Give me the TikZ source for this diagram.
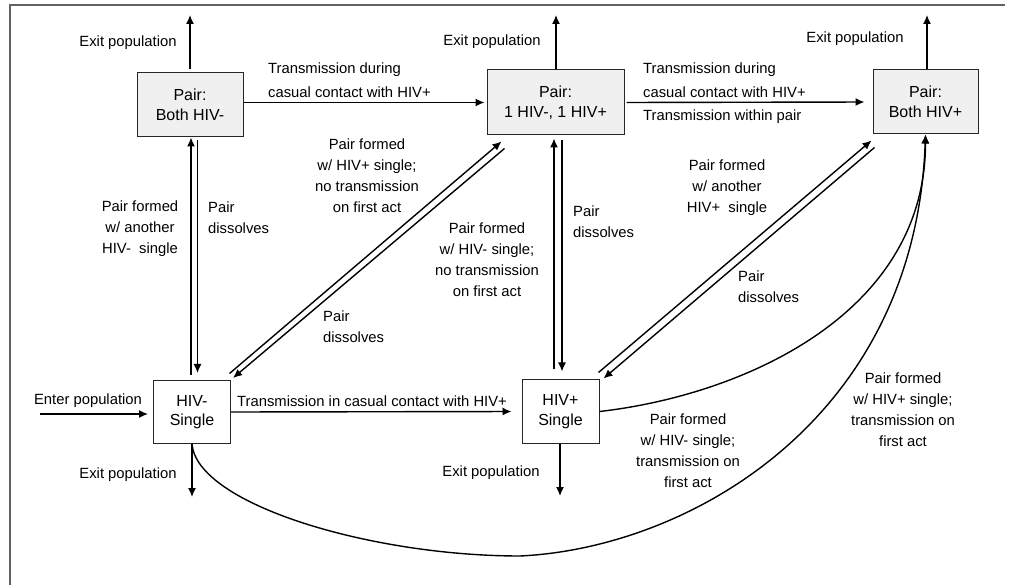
\documentclass[tikz,border=0pt]{standalone}
\usepackage{fontspec}
\setmainfont{Liberation Sans}
\usetikzlibrary{positioning,calc,arrows.meta}

\begin{document}
\begin{tikzpicture}[x=1pt,y=-1pt]
 \tikzset{arrow/.style={line width=1.4pt,-{Latex[length=9pt,width=8pt]}},
  pairbox/.style={draw=black!85,line width=1pt,fill=gray!12,align=center,inner sep=0pt,
   font=\fontsize{16}{19.5}\selectfont},
  singlebox/.style={pairbox,fill=white},
  lbl/.style={align=center,inner sep=0pt,font=\fontsize{14.8}{21}\selectfont},
  frame/.style={line width=1.8pt,black!62}}
 \useasboundingbox (0,0) rectangle (1010,585);
 \coordinate (frBL) at (10,585);
 \coordinate (frTL) at (10,5);
 \coordinate (frTR) at (1005,5);
 \draw[frame] (frBL) -- (frTL) -- (frTR);

 % states
 \node[pairbox,minimum width=106,minimum height=64] (NN) at (190,105) {Pair:\\Both HIV-};
 \node[pairbox,minimum width=137,minimum height=65] (NP) at (555.5,102.5) {Pair:\\1 HIV-, 1 HIV+};
 \node[pairbox,minimum width=105,minimum height=64] (PP) at (925.5,102) {Pair:\\Both HIV+};
 \node[singlebox,minimum width=77,minimum height=63] (N) at (192,412) {HIV-\\Single};
 \node[singlebox,minimum width=77,minimum height=63] (P) at (560.5,411.5) {HIV+\\Single};

 % free ends
 \coordinate (NNout) at (190,15);
 \coordinate (NPout) at (556,15);
 \coordinate (PPout) at (927,15);
 \coordinate (Nout) at (192,497);
 \coordinate (Pout) at (560,496);
 \coordinate (Nin) at (40,414);
 \coordinate (low) at (520,556);

 % entering and leaving
 \draw[arrow] (NNout |- NN.north) ++(0,-3) -- (NNout);
 \draw[arrow] (NPout |- NP.north) -- (NPout);
 \draw[arrow] (PPout |- PP.north) -- (PPout);
 \draw[arrow] (N.south) -- (Nout);
 \draw[arrow] (Pout |- P.south) -- (Pout);
 \draw[arrow,shorten >=5pt] (Nin) -- (Nin -| N.west);
 \node[lbl] (exNN) at (128,43) {Exit population};
 \node[lbl] (exNP) at (492,42) {Exit population};
 \node[lbl] (exPP) at (855,39) {Exit population};
 \node[lbl] (exN) at (128,475) {Exit population};
 \node[lbl] (exP) at (491,473) {Exit population};
 \node[lbl] (enter) at (88,401) {Enter population};

 % casual contact
 \draw[arrow,shorten >=2pt] (NN.east |- NP.west) -- (NP.west);
 \draw[arrow,shorten <=2pt,shorten >=8pt] (NP.east) -- (PP.west);
 \draw[arrow,shorten >=10pt] (N.east) -- (P.west);
 \node[lbl,align=left,anchor=west] (lAB) at (268,80) {Transmission during\\[3pt]casual contact with HIV+};
 \node[lbl,align=left,anchor=west] (lBC) at (643,80) {Transmission during\\[3pt]casual contact with HIV+};
 \node[lbl,anchor=west] (lBCin) at (643,117) {Transmission within pair};
 \node[lbl,anchor=west] (lNP) at (237,401) {Transmission in casual contact with HIV+};

 % pair formation and dissolution
 \draw[arrow] ($(N.north)+(-1,-5)$) -- ($(NN.south)+(1,0)$);
 \draw[arrow] ($(NN.south)+(7.5,3)$) -- ($(N.north)+(5.5,-7)$);
 \draw[arrow] ($(P.north)+(-6.5,-10)$) -- ($(NP.south)+(-1.5,3)$);
 \draw[arrow] ($(NP.south)+(6.5,5)$) -- ($(P.north)+(1.5,-8)$);
 \draw[arrow] ($(N.north east)+(-1.5,-6.5)$) -- ($(NP.south west)+(15,6)$);
 \draw[arrow] ($(NP.south west)+(18,13)$) -- ($(N.north east)+(2,-2)$);
 \draw[arrow] ($(P.north east)+(-1,-7)$) -- ($(PP.south west)+(-1,6)$);
 \draw[arrow] ($(PP.south west)+(2,13)$) -- ($(P.north east)+(4,-1)$);
 \node[lbl] (lNNform) at (140,229) {Pair formed\\w/ another\\HIV-~~single};
 \node[lbl,align=left,anchor=west] (lNNdis) at (208,218) {Pair\\dissolves};
 \node[lbl] (lNPform) at (367,176) {Pair formed\\w/ HIV+ single;\\no transmission\\on first act};
 \node[lbl,align=left,anchor=west] (lNPdis) at (323,327) {Pair\\dissolves};
 \node[lbl] (lPform) at (487,260) {Pair formed\\w/ HIV- single;\\no transmission\\on first act};
 \node[lbl,align=left,anchor=west] (lPdis) at (573,222) {Pair\\dissolves};
 \node[lbl] (lPPform) at (727,188) {Pair formed\\w/ another\\HIV+~~single};
 \node[lbl,align=left,anchor=west] (lPPdis) at (738,287) {Pair\\dissolves};

 % transmission on first act
 \draw[arrow] (P.east) .. controls +(141,-16) and +(0,181) .. (PP.south);
 \draw[arrow] (N.south) .. controls +(5,60) and +(-150,0) .. (low)
   .. controls +(170,-8) and +(-10,284) .. (PP.south);
 \node[lbl] (lPcurve) at (688,451) {Pair formed\\w/ HIV- single;\\transmission on\\first act};
 \node[lbl] (lNcurve) at (903,410) {Pair formed\\w/ HIV+ single;\\transmission on\\first act};
\end{tikzpicture}
\end{document}
